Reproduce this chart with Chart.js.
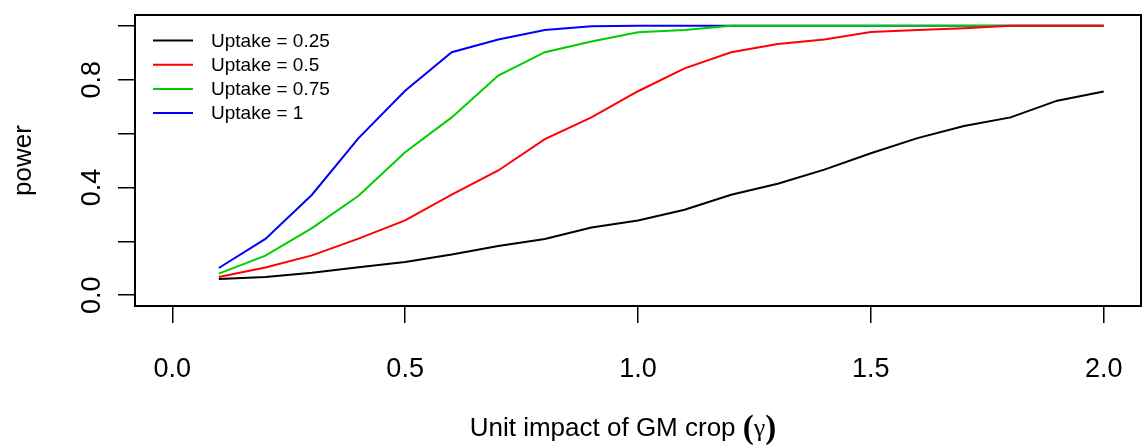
<!DOCTYPE html>
<html lang="en">
<head>
<meta charset="UTF-8">
<title>Power by unit impact of GM crop</title>
<style>
  body { margin: 0; background: #fff; }
  canvas { display: block; }
</style>
</head>
<body>
<canvas id="powerChart" width="1144" height="448"></canvas>

<script src="https://cdn.jsdelivr.net/npm/chart.js"></script>
<script>
// data
const gamma = [0.1, 0.2, 0.3, 0.4, 0.5, 0.6, 0.7, 0.8, 0.9, 1.0,
               1.1, 1.2, 1.3, 1.4, 1.5, 1.6, 1.7, 1.8, 1.9, 2.0];
const uptake025 = [0.060, 0.068, 0.083, 0.104, 0.123, 0.151, 0.183, 0.209, 0.251, 0.277,
                   0.317, 0.373, 0.414, 0.466, 0.527, 0.583, 0.628, 0.660, 0.722, 0.756];
const uptake05  = [0.068, 0.103, 0.148, 0.210, 0.278, 0.373, 0.463, 0.579, 0.660, 0.757,
                   0.842, 0.902, 0.932, 0.949, 0.977, 0.984, 0.991, 1.000, 1.000, 1.000];
const uptake075 = [0.080, 0.147, 0.249, 0.369, 0.531, 0.660, 0.815, 0.902, 0.942, 0.976,
                   0.984, 1.000, 1.000, 1.000, 1.000, 1.000, 1.000, 1.000, 1.000, 1.000];
const uptake1   = [0.101, 0.209, 0.373, 0.583, 0.759, 0.902, 0.949, 0.984, 0.998, 1.000,
                   1.000, 1.000, 1.000, 1.000, 1.000, 1.000, 1.000, 1.000, 1.000, 1.000];

const seriesNames = ['Uptake = 0.25', 'Uptake = 0.5', 'Uptake = 0.75', 'Uptake = 1'];
const seriesColors = ['#000000', '#FF0000', '#00CD00', '#0000FF'];

const xTicks = [0.0, 0.5, 1.0, 1.5, 2.0];
const yTicks = [0.0, 0.2, 0.4, 0.6, 0.8, 1.0];
const yTickLabels = ['0.0', '', '0.4', '', '0.8', ''];

const xTitle = 'Unit impact of GM crop';
const xTitleSymbol = 'γ';
const yTitle = 'power';

const SANS = '"Liberation Sans", Arial, Helvetica, sans-serif';
const SERIF = '"Liberation Serif", "Times New Roman", serif';

function toPoints(values) {
    return gamma.map((g, i) => ({ x: g, y: values[i] }));
}

const allSeries = [uptake025, uptake05, uptake075, uptake1];

// box, rotated y labels, legend and the mixed-font x title
const decorPlugin = {
    id: 'decor',
    afterDraw(chart) {
        const { ctx, chartArea: a, scales } = chart;
        ctx.save();

        ctx.strokeStyle = '#000';
        ctx.lineWidth = 2;
        ctx.strokeRect(a.left, a.top, a.right - a.left, a.bottom - a.top);

        // y tick labels, written bottom to top like R
        ctx.fillStyle = '#000';
        ctx.font = '27px ' + SANS;
        ctx.textAlign = 'center';
        ctx.textBaseline = 'alphabetic';
        yTicks.forEach((v, i) => {
            if (!yTickLabels[i]) return;
            const y = scales.y.getPixelForValue(v);
            ctx.save();
            ctx.translate(100, y);
            ctx.rotate(-Math.PI / 2);
            ctx.fillText(yTickLabels[i], 0, 0);
            ctx.restore();
        });

        // legend, no frame
        ctx.font = '19px ' + SANS;
        ctx.textAlign = 'left';
        ctx.textBaseline = 'middle';
        chart.data.datasets.forEach((ds, i) => {
            const y = a.top + 25.5 + i * 24.2;
            ctx.strokeStyle = ds.borderColor;
            ctx.lineWidth = 2;
            ctx.beginPath();
            ctx.moveTo(a.left + 18, y);
            ctx.lineTo(a.left + 58, y);
            ctx.stroke();
            ctx.fillText(ds.label, a.left + 76, y + 1);
        });

        // x title: sans text plus serif (gamma)
        ctx.textBaseline = 'alphabetic';
        ctx.font = '26px ' + SANS;
        const part1 = xTitle + ' ';
        const w1 = ctx.measureText(part1).width;
        ctx.font = 'bold 33px ' + SERIF;
        const wp = ctx.measureText('(').width;
        ctx.font = '26px ' + SERIF;
        const wg = ctx.measureText(xTitleSymbol).width;
        const total = w1 + wp * 2 + wg;
        let x = 623 - total / 2;
        const base = 436;
        ctx.font = '26px ' + SANS;
        ctx.fillText(part1, x, base);
        x += w1;
        ctx.font = 'bold 33px ' + SERIF;
        ctx.fillText('(', x, base + 2);
        x += wp;
        ctx.font = '26px ' + SERIF;
        ctx.fillText(xTitleSymbol, x, base);
        x += wg;
        ctx.font = 'bold 33px ' + SERIF;
        ctx.fillText(')', x, base + 2);

        ctx.restore();
    }
};

const ctx = document.getElementById('powerChart').getContext('2d');
new Chart(ctx, {
    type: 'scatter',
    data: {
        datasets: allSeries.map((vals, i) => ({
            label: seriesNames[i],
            data: toPoints(vals),
            showLine: true,
            borderColor: seriesColors[i],
            backgroundColor: seriesColors[i],
            borderWidth: 2,
            pointRadius: 0,
            tension: 0
        }))
    },
    options: {
        responsive: false,
        animation: false,
        devicePixelRatio: 1,
        layout: { padding: { top: 15, right: 3, left: 0, bottom: 0 } },
        plugins: {
            legend: { display: false },
            tooltip: { enabled: false }
        },
        scales: {
            x: {
                type: 'linear',
                min: -0.08,
                max: 2.08,
                afterBuildTicks: s => { s.ticks = xTicks.map(v => ({ value: v })); },
                afterFit: s => { s.height = 142; s.paddingLeft = 0; s.paddingRight = 0; },
                border: { display: false },
                grid: { drawOnChartArea: false, drawTicks: true, tickLength: 17, color: '#000', lineWidth: 1.5 },
                ticks: {
                    color: '#000',
                    font: { family: SANS, size: 27 },
                    padding: 30,
                    maxRotation: 0,
                    callback: v => v.toFixed(1)
                }
            },
            y: {
                type: 'linear',
                min: -0.04,
                max: 1.04,
                afterBuildTicks: s => { s.ticks = yTicks.map(v => ({ value: v })); },
                afterFit: s => { s.width = 135; s.paddingTop = 0; s.paddingBottom = 0; },
                border: { display: false },
                grid: { drawOnChartArea: false, drawTicks: true, tickLength: 17, color: '#000', lineWidth: 1.5 },
                ticks: { display: false },
                title: {
                    display: true,
                    text: yTitle,
                    color: '#000',
                    font: { family: SANS, size: 26 },
                    padding: { top: 8, bottom: 0 }
                }
            }
        }
    },
    plugins: [decorPlugin]
});
</script>
</body>
</html>
